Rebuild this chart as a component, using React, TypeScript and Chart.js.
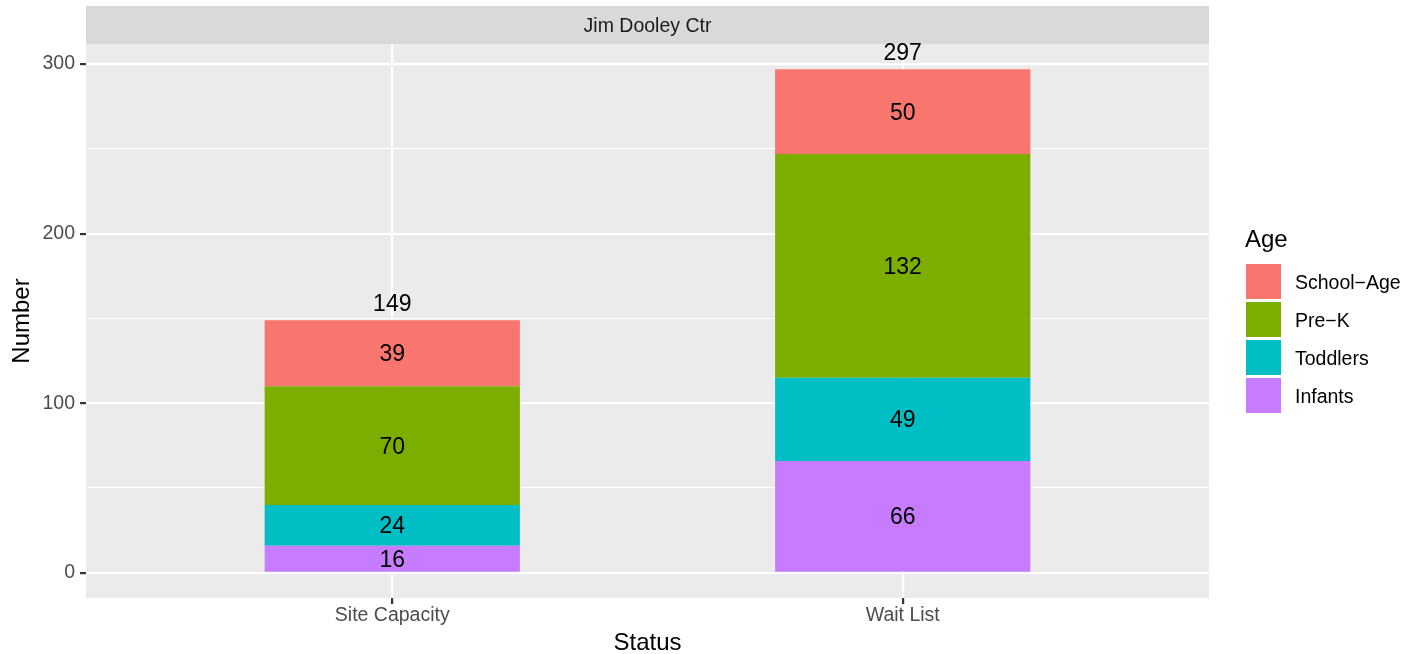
import React, { useEffect, useRef } from "react";
import { Chart, registerables } from "chart.js";

Chart.register(...registerables);

const categories = ["Site Capacity", "Wait List"];
const categoryPositions = [1, 2];
const ageGroups = ["Infants", "Toddlers", "Pre-K", "School-Age"];
const legendLabels = ["School\u2212Age", "Pre\u2212K", "Toddlers", "Infants"];
const infants = [16, 66];
const toddlers = [24, 49];
const preK = [70, 132];
const schoolAge = [39, 50];
const yMajorTicks = [0, 100, 200, 300];
const yMinorTicks = [50, 150, 250];
const facetLabel = "Jim Dooley Ctr";

const colors: Record<string, string> = {
  "Infants": "#C77CFF",
  "Toddlers": "#00BFC4",
  "Pre-K": "#7CAE00",
  "School-Age": "#F8766D",
};
const legendColors = ["#F8766D", "#7CAE00", "#00BFC4", "#C77CFF"];

const FONT = '"Liberation Sans", Arial, Helvetica, sans-serif';

export default function App() {
  const ref = useRef<HTMLCanvasElement | null>(null);

  useEffect(() => {
    const canvas = ref.current;
    if (!canvas) return;
    Chart.defaults.font.family = FONT;
    const series = [infants, toddlers, preK, schoolAge];
    const totals = categories.map((_, i) => series.reduce((s, a) => s + a[i], 0));
    const maxTotal = Math.max(...totals);
    const expand = maxTotal * 0.05;

    const datasets = ageGroups.map((g, k) => ({
      label: g,
      data: categoryPositions.map((x, i) => ({ x, y: series[k][i] })),
      backgroundColor: colors[g],
      borderWidth: 0,
      barPercentage: 1,
      categoryPercentage: 0.5,
    }));

    const panelPlugin = {
      id: "panel",
      beforeDraw(chart: any) {
        const { ctx, chartArea } = chart;
        ctx.save();
        ctx.fillStyle = "#EBEBEB";
        ctx.fillRect(chartArea.left, chartArea.top, chartArea.right - chartArea.left, chartArea.bottom - chartArea.top);
        // strip
        ctx.fillStyle = "#D9D9D9";
        ctx.fillRect(chartArea.left, 6, chartArea.right - chartArea.left, chartArea.top - 6);
        ctx.fillStyle = "#1A1A1A";
        ctx.font = `19.5px ${FONT}`;
        ctx.textAlign = "center";
        ctx.textBaseline = "alphabetic";
        ctx.fillText(facetLabel, (chartArea.left + chartArea.right) / 2, 32);
        ctx.restore();
      },
      afterDatasetsDraw(chart: any) {
        const { ctx } = chart;
        ctx.save();
        ctx.fillStyle = "#000000";
        ctx.font = `23px ${FONT}`;
        ctx.textAlign = "center";
        ctx.textBaseline = "alphabetic";
        chart.data.datasets.forEach((ds: any, di: number) => {
          const meta = chart.getDatasetMeta(di);
          meta.data.forEach((el: any, i: number) => {
            const cy = (el.y + el.base) / 2;
            ctx.fillText(String(series[di][i]), el.x, cy + 8);
          });
        });
        const yScale = chart.scales.y;
        const xScale = chart.scales.x;
        totals.forEach((t, i) => {
          const px = xScale.getPixelForValue(categoryPositions[i]);
          const py = yScale.getPixelForValue(t);
          ctx.fillText(String(t), px, py - 9);
        });
        // legend
        ctx.textAlign = "left";
        ctx.font = `24px ${FONT}`;
        ctx.fillText("Age", 1245, 247);
        ctx.font = `19.5px ${FONT}`;
        legendLabels.forEach((lab, i) => {
          const top = 264 + i * 38;
          ctx.fillStyle = legendColors[i];
          ctx.fillRect(1246, top, 35, 35);
          ctx.fillStyle = "#000000";
          ctx.fillText(lab, 1295, top + 17.5 + 7);
        });
        ctx.restore();
      },
    };

    const chart = new Chart(canvas, {
      type: "bar",
      data: { datasets: datasets as any },
      options: {
        animation: false,
        responsive: false,
        devicePixelRatio: 1,
        layout: { padding: { left: 0, top: 44, right: 197, bottom: 0 } },
        plugins: { legend: { display: false }, tooltip: { enabled: false } },
        scales: {
          x: {
            type: "linear",
            stacked: true,
            offset: false,
            min: 1 - 0.6,
            max: 2 + 0.6,
            border: { display: false },
            afterBuildTicks: (scale: any) => {
              scale.ticks = categoryPositions.map((v) => ({ value: v }));
            },
            afterFit: (scale: any) => {
              scale.height = 56;
            },
            grid: {
              offset: false,
              color: "#FFFFFF",
              lineWidth: 2.2,
              tickColor: "#333333",
              tickWidth: 2.2,
              tickLength: 6,
            },
            ticks: {
              autoSkip: false,
              maxRotation: 0,
              padding: 2,
              color: "#4D4D4D",
              font: { size: 19.5, lineHeight: 1 },
              callback: (v: any) => {
                const idx = categoryPositions.indexOf(Number(v));
                return idx >= 0 ? categories[idx] : "";
              },
            },
            title: {
              display: true,
              text: "Status",
              color: "#000000",
              font: { size: 24, lineHeight: 1 },
              padding: { top: 0, bottom: -1 },
            },
          },
          y: {
            type: "linear",
            stacked: true,
            min: -expand,
            max: maxTotal + expand,
            border: { display: false },
            afterBuildTicks: (scale: any) => {
              scale.ticks = [...yMajorTicks, ...yMinorTicks].sort((a, b) => a - b).map((v) => ({ value: v }));
            },
            afterFit: (scale: any) => {
              scale.width = 86;
            },
            grid: {
              color: "#FFFFFF",
              lineWidth: (c: any) => (yMajorTicks.includes(c.tick?.value) ? 2.2 : 1.1),
              tickColor: (c: any) => (yMajorTicks.includes(c.tick?.value) ? "#333333" : "rgba(0,0,0,0)"),
              tickWidth: 2.2,
              tickLength: 6,
            },
            ticks: {
              autoSkip: false,
              padding: 5,
              color: "#4D4D4D",
              font: { size: 19.5, lineHeight: 1 },
              callback: (v: any) => (yMajorTicks.includes(Number(v)) ? String(v) : ""),
            },
            title: {
              display: true,
              text: "Number",
              color: "#000000",
              font: { size: 24, lineHeight: 1 },
              padding: { top: 10.5, bottom: 0 },
            },
          },
        },
      },
      plugins: [panelPlugin],
    });
    return () => chart.destroy();
  }, []);

  return (
    <div style={{ position: "fixed", left: 0, top: 0, width: 1406, height: 654, background: "#FFFFFF" }}>
      <canvas ref={ref} width={1406} height={654} style={{ display: "block" }} />
    </div>
  );
}
